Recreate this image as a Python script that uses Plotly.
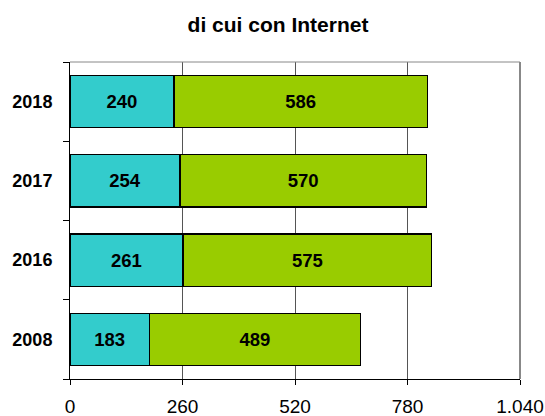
import plotly.graph_objects as go

years = ["2008", "2016", "2017", "2018"]
series_a = [183, 261, 254, 240]
series_b = [489, 575, 570, 586]
x_ticks = [0, 260, 520, 780, 1040]
x_ticktext = ["0", "260", "520", "780", "1.040"]
color_a = "#33CCCC"
color_b = "#99CC00"

fig = go.Figure()
for vals, col in [(series_a, color_a), (series_b, color_b)]:
    fig.add_trace(go.Bar(
        y=years, x=vals, orientation="h",
        marker=dict(color=col, line=dict(color="black", width=1.3)),
        text=[str(v) for v in vals], textposition="inside", insidetextanchor="middle",
        textfont=dict(family="Liberation Sans, Arial", size=18.5, color="black", weight="bold"),
        constraintext="none", cliponaxis=False,
    ))

fig.update_layout(
    barmode="stack", bargap=0.34,
    width=545, height=416,
    margin=dict(l=70, r=25, t=62, b=37, autoexpand=False),
    paper_bgcolor="white", plot_bgcolor="white",
    showlegend=False,
    font=dict(family="Liberation Sans, Arial", color="black"),
    title=dict(text="<b>di cui con Internet</b>", x=278 / 545, xanchor="center", xref="container",
               y=1 - 24.7 / 416, yanchor="middle", yref="container",
               font=dict(size=21, family="Liberation Sans, Arial", color="black")),
    xaxis=dict(range=[0, 1040], tickvals=x_ticks, ticktext=x_ticktext,
               showgrid=True, gridcolor="#555555", gridwidth=1,
               showline=True, linecolor="black", linewidth=1,
               ticks="outside", ticklen=5, tickcolor="black", ticklabelstandoff=5,
               tickfont=dict(size=19), zeroline=False, fixedrange=True, automargin=False),
    yaxis=dict(categoryorder="array", categoryarray=years,
               showline=True, linecolor="black", linewidth=1,
               ticks="outside", tickson="boundaries", ticklen=6, tickcolor="black",
               ticklabelstandoff=13,
               tickfont=dict(size=18, weight="bold"), showgrid=False, fixedrange=True,
               automargin=False),
    shapes=[
        dict(type="line", xref="paper", yref="paper", x0=0, x1=1, y0=1, y1=1,
             line=dict(color="#888888", width=1)),
        dict(type="line", xref="paper", yref="paper", x0=1, x1=1, y0=0, y1=1,
             line=dict(color="#888888", width=2)),
    ],
)

fig.write_html("out.html", config={"displayModeBar": False},
               post_script="document.body.style.margin='0px';document.body.style.overflow='hidden';")
